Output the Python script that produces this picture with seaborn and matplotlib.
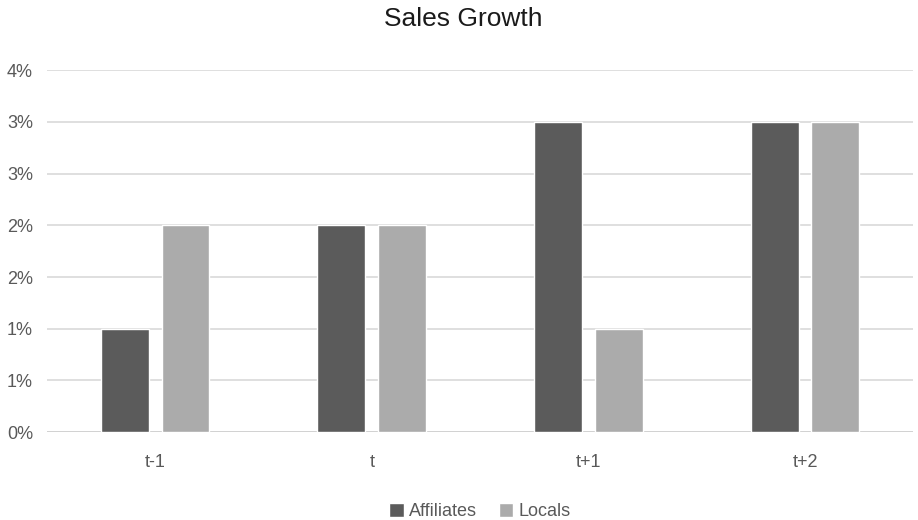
import numpy as np
import pandas as pd
import matplotlib
import matplotlib.pyplot as plt
import seaborn as sns

matplotlib.use("Agg")

periods = ["t-1", "t", "t+1", "t+2"]
affiliates = [1.0, 2.0, 3.0, 3.0]   # percent
locals_ = [2.0, 2.0, 1.0, 3.0]
tick_values = [0, 0.5, 1.0, 1.5, 2.0, 2.5, 3.0, 3.5]
tick_labels = ["0%", "1%", "1%", "2%", "2%", "3%", "3%", "4%"]

df = pd.DataFrame({
    "period": periods * 2,
    "growth": affiliates + locals_,
    "series": ["Affiliates"] * 4 + ["Locals"] * 4,
})

sns.set_style("white")
plt.rcParams["font.family"] = ["Liberation Sans Narrow", "Liberation Sans", "DejaVu Sans"]

fig = plt.figure(figsize=(9.18, 5.2), dpi=100)
ax = fig.add_axes([0.051, 0.169, 0.944, 0.696])

sns.barplot(data=df, x="period", y="growth", hue="series",
            palette={"Affiliates": "#5b5b5b", "Locals": "#ababab"},
            width=0.56, gap=0.21, ax=ax, legend=True, zorder=3)

ax.set_ylim(0, 3.5)
ax.set_yticks(tick_values)
ax.set_yticklabels(tick_labels)
ax.yaxis.grid(True, color="#d9d9d9", linewidth=1.2, zorder=0)
ax.set_axisbelow(True)
for s in ["top", "right", "left", "bottom"]:
    ax.spines[s].set_visible(False)
ax.axhline(0, color="#d0d0d0", linewidth=1.2, zorder=1)
ax.tick_params(axis="both", length=0, labelsize=13, colors="#595959")
ax.tick_params(axis="x", pad=16)
ax.tick_params(axis="y", pad=10)
ax.set_xlabel("")
ax.set_ylabel("")

ax.legend(loc="center", bbox_to_anchor=(0.5, -0.22), ncol=2, frameon=False,
          fontsize=13, handlelength=0.8, handleheight=0.8, handletextpad=0.3,
          columnspacing=1.2, labelcolor="#595959")

fig.text(0.505, 0.963, "Sales Growth", ha="center", va="center",
         fontsize=19, color="#1a1a1a")

fig.savefig("out.png", dpi=100)
